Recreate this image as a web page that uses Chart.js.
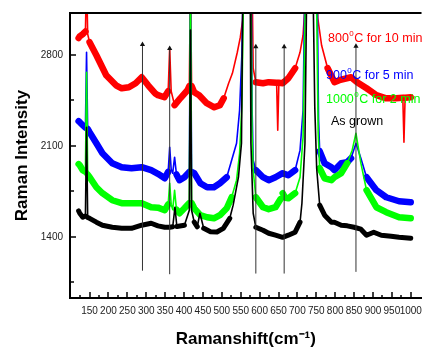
<!DOCTYPE html>
<html>
<head>
<meta charset="utf-8">
<script src="https://cdn.jsdelivr.net/npm/chart.js@4.4.0/dist/chart.umd.min.js"></script>
<style>
  body { margin: 0; background: #fff; }
  canvas { display: block; }
</style>
</head>
<body>
<canvas id="raman" width="429" height="347"></canvas>
<script>
// Raman shift (cm-1) and intensity, one pair of arrays per sample
var blackX = [121,124,132,139,142,145,150,168,184,210,235,261,288,313,331,349,362,370,376,381,401,414,417,420,427,435,442,452,470,487,504,521,530,544,552,556,575,577,583,590,609,624,642,661,676,694,707,712,720,725,741,746,751,759,772,790,798,816,832,850,868,883,902,922,948,969,1000];
var blackY = [1600,1582,1551,1560,2243,1550,1543,1513,1490,1474,1466,1466,1490,1505,1485,1474,1474,1478,1628,1480,1490,1605,2990,1605,1513,1478,1582,1466,1440,1438,1466,1543,1644,1859,2120,3400,3400,2120,1582,1474,1451,1428,1413,1397,1413,1436,1513,1659,2120,3400,3400,2400,1928,1644,1567,1513,1513,1490,1485,1474,1459,1413,1436,1413,1405,1397,1390];

var greenX = [121,124,132,139,142,145,150,168,184,210,235,261,288,313,331,349,358,362,366,370,375,380,388,401,414,417,420,427,443,461,479,495,513,526,539,547,553,558,577,580,583,590,609,624,642,655,661,668,676,694,707,715,722,750,755,759,772,790,798,816,832,845,855,868,883,909,935,969,1000];
var greenY = [1960,1951,1913,1900,2666,1880,1859,1782,1736,1682,1659,1659,1659,1628,1625,1605,1650,1813,1650,1610,1759,1610,1582,1620,1660,3400,1660,1620,1567,1551,1543,1567,1620,1705,1836,2043,2400,3400,3400,2200,1913,1705,1628,1613,1628,1690,1736,1700,1697,1736,1859,2167,3400,3400,2200,1928,1851,1836,1859,1890,1967,2067,2197,1967,1759,1628,1590,1551,1543];

var blueX = [121,124,132,139,142,145,150,168,184,210,235,261,288,313,331,349,358,362,366,370,375,380,388,401,414,417,420,427,443,461,479,495,513,526,539,547,553,557,578,580,583,590,609,624,642,661,676,694,707,715,720,752,756,759,772,790,798,816,832,842,855,868,883,909,935,969,1000];
var blueY = [2290,2282,2259,2240,2820,2230,2205,2120,2043,1967,1936,1928,1936,1913,1885,1851,1900,2090,1920,1890,2013,1880,1836,1859,1900,3400,1900,1890,1813,1782,1782,1813,1859,1990,2120,2374,2800,3400,3400,2400,1990,1913,1859,1836,1859,1890,1874,1913,2067,2374,3400,3400,2300,2059,1967,1936,1913,1967,1975,2005,2120,2005,1859,1759,1705,1674,1667];

var redX = [121,124,132,139,142,145,150,168,194,220,235,254,272,288,305,323,331,348,358,362,366,375,390,409,414,417,420,427,440,460,480,495,505,518,528,541,549,555,558,580,583,590,609,624,645,648,651,661,676,694,707,715,725,751,754,764,780,798,811,842,858,883,909,935,961,979,982,985,1000];
var redY = [2930,2943,2960,2980,3400,2960,2897,2797,2643,2566,2543,2551,2582,2628,2566,2505,2490,2474,2520,2851,2520,2413,2466,2528,2560,3400,2560,2513,2490,2428,2397,2413,2466,2582,2658,2820,2936,3066,3400,3400,2697,2590,2582,2590,2585,2220,2585,2582,2620,2697,2820,2951,3400,3400,3082,2874,2697,2590,2605,2628,2590,2543,2490,2466,2466,2470,2128,2470,2474];

// marker arrows: position, tip and foot
var arrowX = [290, 362, 590, 665, 855];
var arrowTop = [2880, 2849, 2862, 2862, 2867];
var arrowBottom = [1140, 1113, 1118, 1118, 1131];

var xLabels = [150,200,250,300,350,400,450,500,550,600,650,700,750,800,850,900,950,1000];
var yTicks = [1050,1400,1750,2100,2450,2800];
var yLabels = [1400,2100,2800];

var seriesNames = ['As grown', '1000\u2070C for 2 min', '900\u2070C for 5 min', '800\u2070C for 10 min'];

function pts(xs, ys) {
    var out = [];
    for (var i = 0; i < xs.length; i++) out.push({x: xs[i], y: ys[i]});
    return out;
}

// thin stroke where the trace shoots up into a peak, wide band elsewhere (noise)
function spectrum(label, xs, ys, color, width) {
    return {
        label: label,
        data: pts(xs, ys),
        borderColor: color,
        borderWidth: width,
        borderJoinStyle: 'round',
        borderCapStyle: 'round',
        pointRadius: 0,
        clip: 0,
        segment: {
            borderWidth: function(ctx) {
                var dx = Math.abs(ctx.p1.x - ctx.p0.x);
                var dy = Math.abs(ctx.p1.y - ctx.p0.y);
                return dy > 2.5 * dx ? 1.6 : width;
            }
        }
    };
}

var datasets = [];
arrowX.forEach(function(x, i) {
    datasets.push({
        label: 'arrow' + i,
        data: [{x: x, y: arrowBottom[i]}, {x: x, y: arrowTop[i]}],
        borderColor: '#333',
        borderWidth: 1,
        pointRadius: [0, 3],
        pointStyle: 'triangle',
        pointBackgroundColor: '#111',
        pointBorderColor: '#111',
        pointBorderWidth: 0
    });
});
datasets.push(spectrum(seriesNames[0], blackX, blackY, '#000000', 5));
datasets.push(spectrum(seriesNames[1], greenX, greenY, '#00ff00', 6.5));
datasets.push(spectrum(seriesNames[2], blueX, blueY, '#0000ff', 6.5));
datasets.push(spectrum(seriesNames[3], redX, redY, '#ff0000', 6.5));

// legend texts sit inside the plot, with a raised 0
var notes = [
    {pre: '800', post: 'C for 10 min', color: '#ff0000', x: 328, y: 39},
    {pre: '900', post: 'C for 5 min', color: '#0000ff', x: 326, y: 76},
    {pre: '1000', post: 'C for 2 min', color: '#00ff00', x: 326, y: 100},
    {pre: 'As grown', post: null, color: '#000000', x: 331, y: 122}
];

var decor = {
    id: 'decor',
    afterDatasetsDraw: function(chart) {
        var ctx = chart.ctx, area = chart.chartArea;
        var xs = chart.scales.x, ys = chart.scales.y;
        ctx.save();
        ctx.strokeStyle = '#000';
        ctx.lineWidth = 1.5;
        xs.ticks.forEach(function(t) {
            var px = Math.round(xs.getPixelForValue(t.value));
            var len = xLabels.indexOf(t.value) >= 0 ? 6 : 3;
            ctx.beginPath();
            ctx.moveTo(px, area.bottom);
            ctx.lineTo(px, area.bottom - len);
            ctx.stroke();
        });
        ys.ticks.forEach(function(t) {
            var py = Math.round(ys.getPixelForValue(t.value));
            var len = yLabels.indexOf(t.value) >= 0 ? 6 : 4;
            ctx.beginPath();
            ctx.moveTo(area.left, py);
            ctx.lineTo(area.left + len, py);
            ctx.stroke();
        });
        ctx.lineWidth = 2;
        ctx.beginPath();
        ctx.moveTo(area.left - 1, area.top);
        ctx.lineTo(area.right, area.top);
        ctx.stroke();

        ctx.textBaseline = 'middle';
        notes.forEach(function(n) {
            ctx.fillStyle = n.color;
            ctx.font = '12.5px Arial, "Liberation Sans"';
            ctx.fillText(n.pre, n.x, n.y);
            if (n.post === null) return;
            var w = ctx.measureText(n.pre).width;
            ctx.font = '8px Arial, "Liberation Sans"';
            ctx.fillText('0', n.x + w + 0.5, n.y - 5);
            var w2 = ctx.measureText('0').width;
            ctx.font = '12.5px Arial, "Liberation Sans"';
            ctx.fillText(n.post, n.x + w + w2 + 1, n.y);
        });
        ctx.restore();
    }
};

Chart.defaults.font.family = 'Arial, "Liberation Sans", sans-serif';
Chart.defaults.color = '#222';

new Chart(document.getElementById('raman'), {
    type: 'line',
    data: { datasets: datasets },
    options: {
        responsive: false,
        animation: false,
        devicePixelRatio: 1,
        layout: { padding: { top: 12, right: 0, left: 0, bottom: 0 } },
        plugins: { legend: { display: false }, tooltip: { enabled: false } },
        scales: {
            x: {
                type: 'linear',
                min: 98.2,
                max: 1028.5,
                afterFit: function(s) { s.height = 49; },
                afterBuildTicks: function(s) {
                    var t = [];
                    xLabels.forEach(function(v) { t.push({value: v - 25}); t.push({value: v}); });
                    s.ticks = t;
                },
                grid: { display: false, drawTicks: false },
                border: { display: true, color: '#000', width: 2 },
                ticks: {
                    autoSkip: false,
                    maxRotation: 0,
                    padding: 7,
                    font: { size: 10 },
                    callback: function(v) { return xLabels.indexOf(v) >= 0 ? String(v) : ''; }
                },
                title: {
                    display: true,
                    text: 'Ramanshift(cm\u207B\u00B9)',
                    color: '#000',
                    font: { size: 17, weight: 'bold', lineHeight: 0.9 },
                    padding: { top: 0, bottom: 0 }
                }
            },
            y: {
                min: 930,
                max: 3122,
                afterFit: function(s) { s.width = 70; },
                afterBuildTicks: function(s) {
                    s.ticks = yTicks.map(function(v) { return {value: v}; });
                },
                grid: { display: false, drawTicks: false },
                border: { display: true, color: '#000', width: 2 },
                ticks: {
                    padding: 7,
                    font: { size: 10 },
                    callback: function(v) { return yLabels.indexOf(v) >= 0 ? String(v) : ''; }
                },
                title: {
                    display: true,
                    text: 'Raman Intensity',
                    color: '#000',
                    font: { size: 17, weight: 'bold', lineHeight: 1 },
                    padding: { top: 14, bottom: 0 }
                }
            }
        }
    },
    plugins: [decor]
});
</script>
</body>
</html>
